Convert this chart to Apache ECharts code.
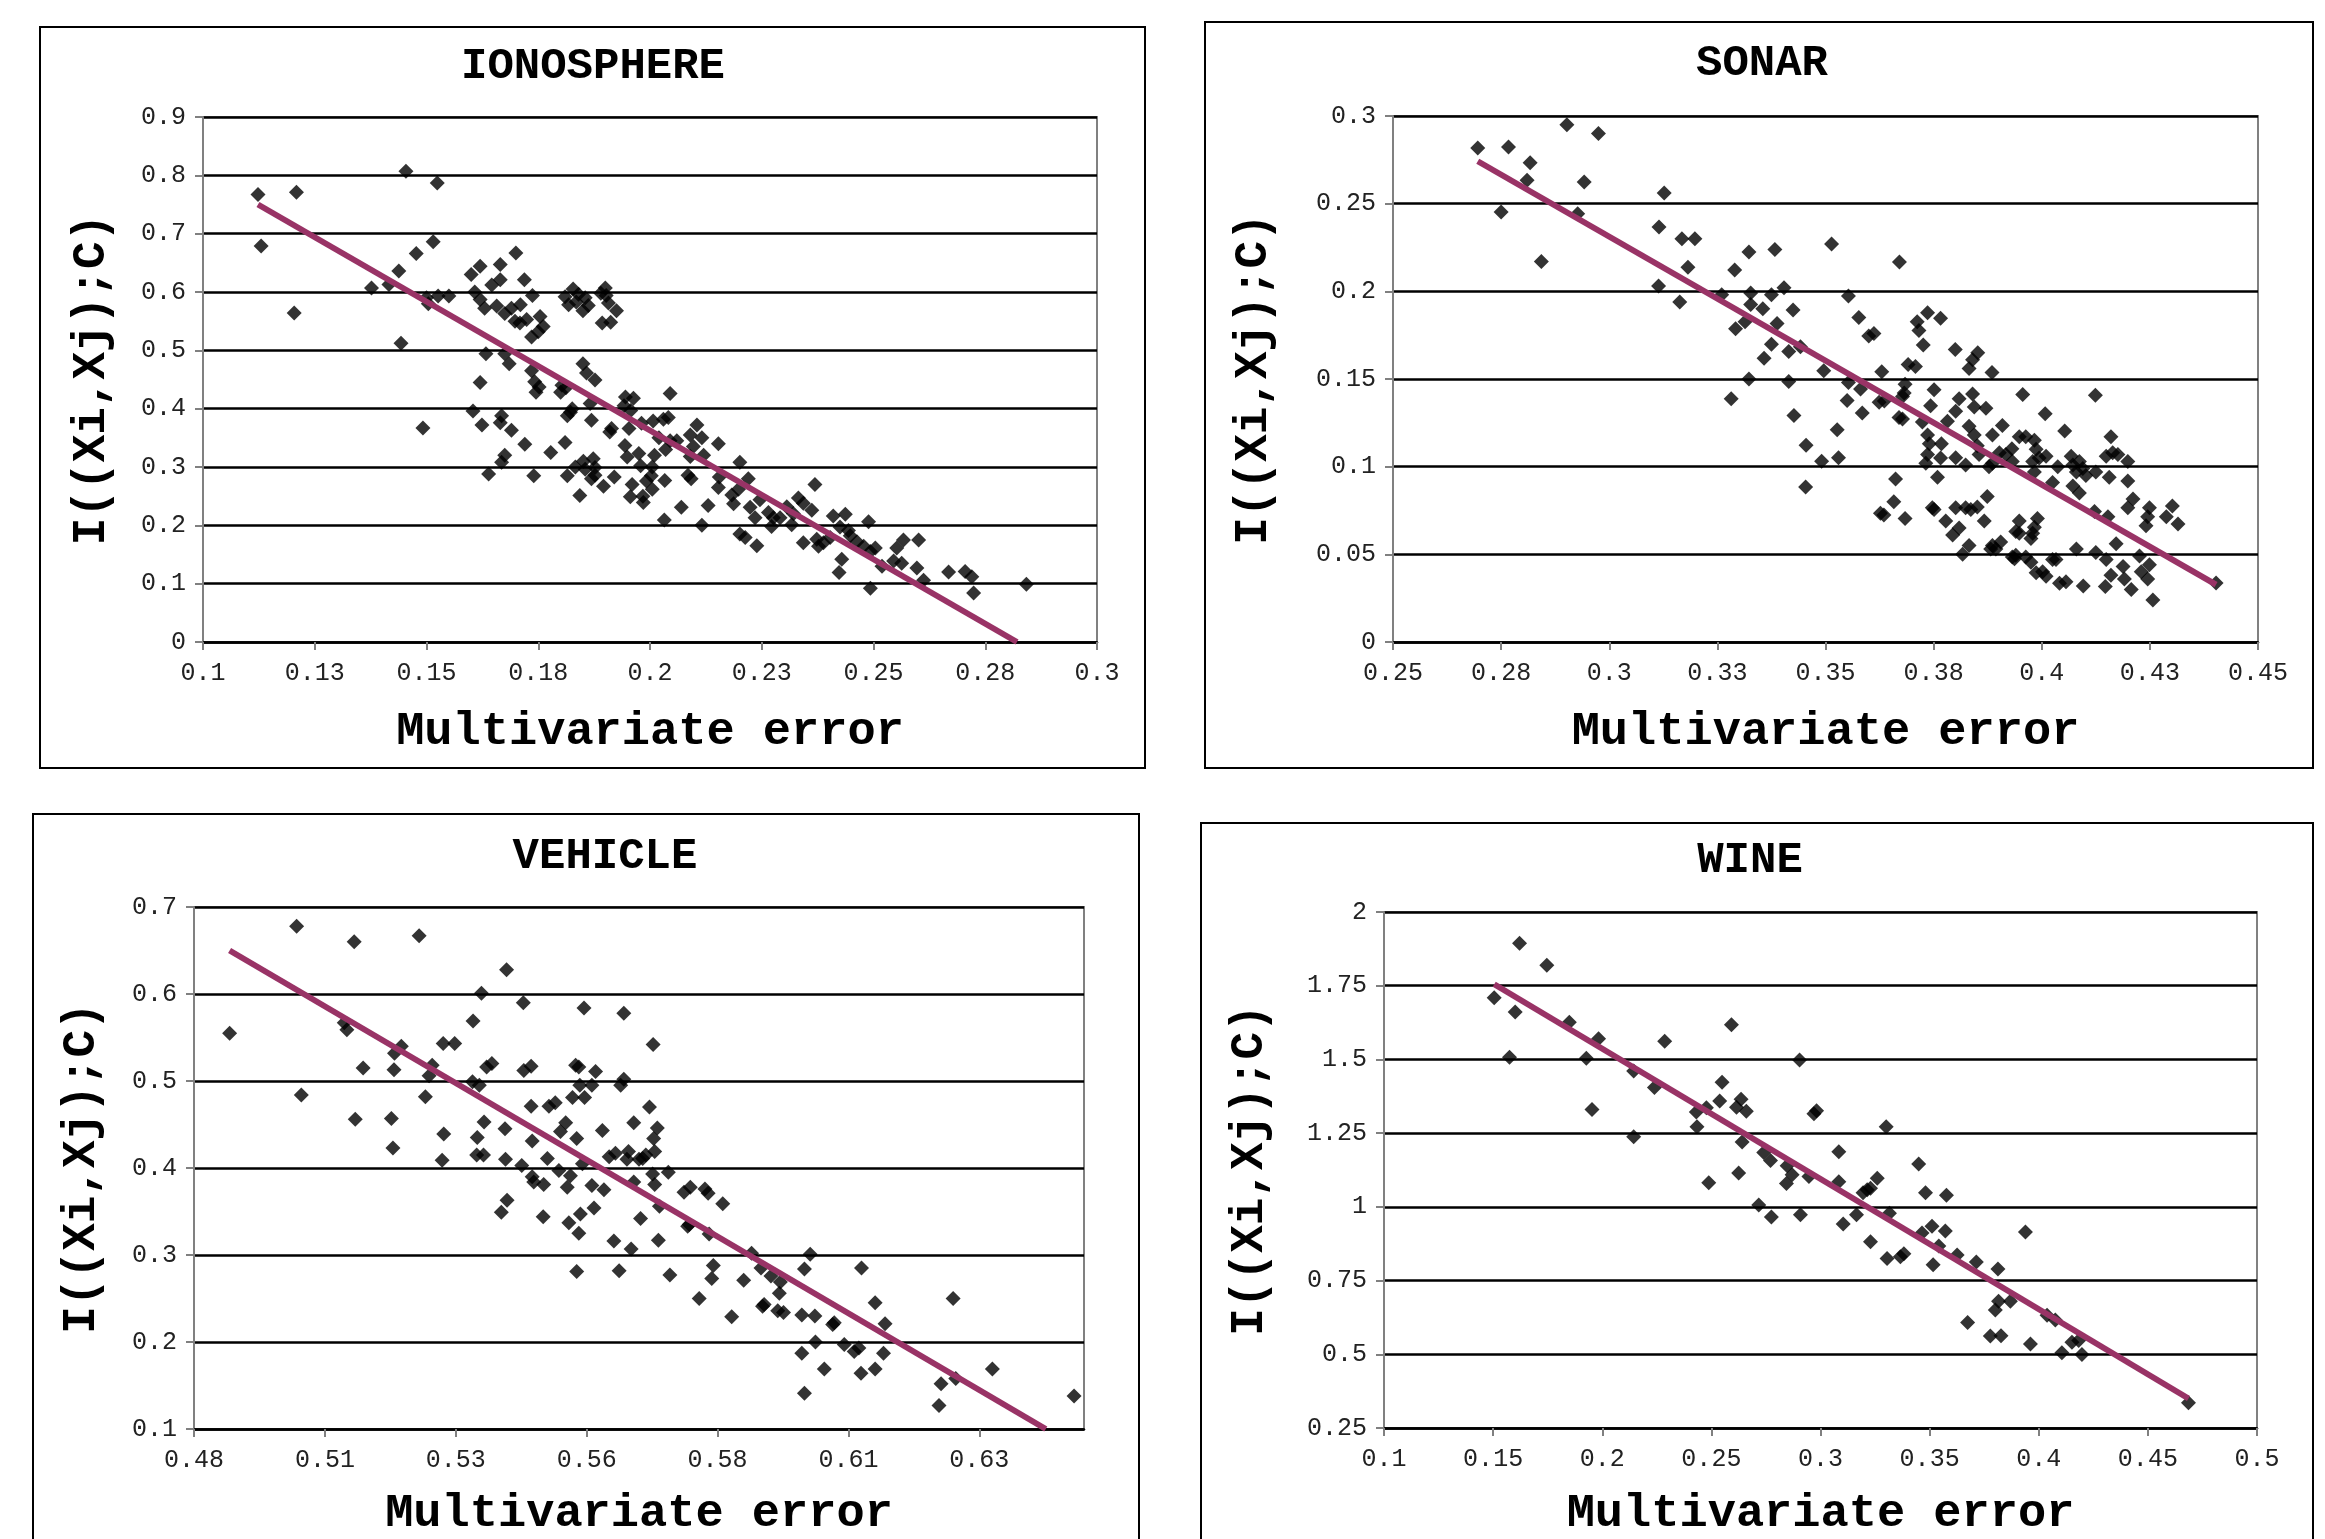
<!DOCTYPE html>
<html>
<head>
<meta charset="utf-8">
<script src="https://cdn.jsdelivr.net/npm/echarts@6/dist/echarts.min.js"></script>
<style>
html,body{margin:0;padding:0;background:#fff;}
#chart{width:2325px;height:1539px;}
</style>
</head>
<body>
<div id="chart"></div>
<script>
// ---------------- DATA ----------------
const titles = ['IONOSPHERE', 'SONAR', 'VEHICLE', 'WINE'];
const xName = 'Multivariate error';
const yName = 'I((Xi,Xj);C)';

const ionoPoints = [
[0.1123,0.767],[0.1209,0.771],[0.1130,0.679],[0.1204,0.564],
[0.1454,0.807],[0.1524,0.787],[0.1515,0.686],[0.1477,0.666],[0.1438,0.636],[0.1377,0.607],[0.1416,0.613],[0.1443,0.512],[0.1492,0.367],
[0.1500,0.590],[0.1504,0.580],[0.1526,0.593],[0.1550,0.593],
[0.1600,0.630],[0.1620,0.644],[0.1665,0.647],[0.1700,0.667],[0.1646,0.612],[0.1665,0.621],[0.1608,0.600],[0.1620,0.587],[0.1630,0.572],[0.1657,0.576],[0.1675,0.563],[0.1690,0.572],[0.1710,0.578],[0.1719,0.621],[0.1737,0.594],[0.1698,0.550],[0.1709,0.547],[0.1724,0.553],[0.1754,0.558],[0.1761,0.541],[0.1750,0.532],[0.1735,0.523],
[0.1810,0.592],[0.1828,0.605],[0.1835,0.583],[0.1850,0.568],[0.1862,0.577],[0.1818,0.578],[0.1840,0.596],[0.1855,0.590],
[0.1890,0.598],[0.1900,0.607],[0.1907,0.581],[0.1925,0.568],[0.1893,0.547],[0.1912,0.548],[0.1902,0.594],
[0.1633,0.494],[0.1675,0.494],[0.1685,0.477],[0.1620,0.445],
[0.1735,0.465],[0.1742,0.446],[0.1752,0.437],[0.1745,0.428],
[0.1803,0.440],[0.1800,0.428],[0.1812,0.436],
[0.1850,0.477],[0.1858,0.461],[0.1877,0.449],
[0.1826,0.400],[0.1815,0.388],[0.1822,0.394],
[0.1866,0.409],[0.1869,0.380],
[0.1945,0.420],[0.1963,0.418],[0.1942,0.405],[0.1957,0.397],
[0.1914,0.366],[0.1910,0.360],[0.1953,0.366],[0.1981,0.375],
[0.1604,0.396],[0.1624,0.372],[0.1668,0.388],[0.1665,0.376],[0.1690,0.363],[0.1720,0.339],[0.1778,0.325],[0.1810,0.342],
[0.1675,0.320],[0.1668,0.308],[0.1639,0.288],[0.1740,0.285],[0.1815,0.285],
[0.1833,0.300],[0.1851,0.310],[0.1873,0.314],[0.1877,0.299],[0.1855,0.296],[0.1877,0.286],[0.1869,0.280],
[0.1843,0.251],[0.1896,0.267],[0.1920,0.283],[0.1944,0.337],[0.1949,0.317],[0.1975,0.323],[0.1979,0.302],
[0.1960,0.270],[0.1956,0.249],[0.1984,0.250],[0.1985,0.239],[0.1992,0.276],
[0.2045,0.426],[0.2007,0.379],[0.2030,0.382],[0.2041,0.385],
[0.2020,0.350],[0.2035,0.330],[0.2010,0.320],[0.2005,0.300],[0.2003,0.285],[0.2045,0.345],
[0.2060,0.345],[0.2090,0.355],[0.2105,0.372],[0.2116,0.350],[0.2097,0.335],[0.2120,0.320],[0.2090,0.318],
[0.2153,0.340],[0.2033,0.277],[0.2005,0.262],
[0.2032,0.209],[0.2085,0.286],[0.2092,0.280],[0.2116,0.200],[0.2130,0.234],[0.2155,0.283],[0.2153,0.265],[0.2070,0.231],
[0.2201,0.308],[0.2220,0.280],[0.2198,0.262],[0.2187,0.237],[0.2183,0.252],
[0.2224,0.231],[0.2235,0.213],[0.2201,0.185],[0.2213,0.179],[0.2239,0.165],[0.2246,0.244],
[0.2265,0.222],[0.2276,0.213],[0.2272,0.198],[0.2291,0.213],[0.2306,0.232],[0.2321,0.220],[0.2332,0.247],[0.2343,0.238],[0.2317,0.201],[0.2362,0.226],
[0.2369,0.270],
[0.2343,0.170],[0.2377,0.164],[0.2388,0.170],[0.2403,0.179],[0.2373,0.176],
[0.2410,0.216],[0.2437,0.219],[0.2425,0.197],[0.2448,0.182],[0.2463,0.172],[0.2444,0.191],
[0.2423,0.119],[0.2429,0.142],[0.2489,0.206],[0.2478,0.164],[0.2493,0.155],[0.2504,0.161],[0.2493,0.092],
[0.2519,0.130],[0.2545,0.139],[0.2552,0.161],[0.2567,0.175],[0.2563,0.135],
[0.2601,0.175],[0.2597,0.127],[0.2612,0.106],
[0.2668,0.120],[0.2705,0.121],[0.2720,0.112],[0.2724,0.084],[0.2842,0.099]
];
const ionoTrend = [[0.1123, 0.750], [0.2821, 0.0]];

const sonarPoints = [
[0.2696,0.2817],[0.2767,0.2823],[0.2817,0.2733],[0.2810,0.2633],[0.2750,0.2453],[0.2843,0.2170],[0.2902,0.2950],[0.2975,0.2900],[0.2942,0.2623],[0.2927,0.2443],
[0.3127,0.2561],[0.3115,0.2367],[0.3168,0.2300],[0.3198,0.2300],[0.3182,0.2137],[0.3114,0.2031],[0.3163,0.1939],
[0.3260,0.1980],[0.3290,0.2122],[0.3323,0.2225],[0.3383,0.2239],[0.3404,0.2020],[0.3327,0.1990],[0.3327,0.1925],[0.3355,0.1900],[0.3375,0.1980],[0.3425,0.1894],[0.3314,0.1827],[0.3292,0.1786],[0.3388,0.1816],[0.3375,0.1698],[0.3415,0.1657],[0.3442,0.1684],[0.3358,0.1618],[0.3323,0.1500],[0.3415,0.1486],[0.3282,0.1388],[0.3427,0.1292],[0.3455,0.1122],[0.3491,0.1031],[0.3454,0.0884],[0.3496,0.1547],
[0.3514,0.2270],[0.3671,0.2168],[0.3553,0.1974],[0.3577,0.1851],[0.3600,0.1745],[0.3612,0.1760],
[0.3553,0.1480],[0.3550,0.1378],[0.3581,0.1443],[0.3585,0.1306],[0.3527,0.1210],[0.3530,0.1051],
[0.3630,0.1541],[0.3624,0.1368],[0.3636,0.1375],[0.3691,0.1582],[0.3708,0.1572],[0.3684,0.1470],[0.3682,0.1420],[0.3678,0.1400],[0.3670,0.1280],[0.3678,0.1272],
[0.3712,0.1827],[0.3736,0.1878],[0.3766,0.1847],[0.3716,0.1776],[0.3726,0.1694],[0.3800,0.1668],[0.3852,0.1650],[0.3840,0.1610],[0.3832,0.1560],[0.3885,0.1537],
[0.3751,0.1439],[0.3743,0.1347],[0.3809,0.1388],[0.3801,0.1316],[0.3840,0.1414],[0.3844,0.1340],[0.3871,0.1333],[0.3782,0.1259],[0.3724,0.1255],
[0.3736,0.1180],[0.3740,0.1130],[0.3736,0.1070],[0.3732,0.1020],[0.3768,0.1130],[0.3766,0.1050],[0.3801,0.1051],
[0.3832,0.1230],[0.3844,0.1180],[0.3851,0.1120],[0.3855,0.1070],[0.3824,0.1010],[0.3878,0.1000],[0.3886,0.1020],
[0.3886,0.1180],[0.3909,0.1235],[0.3902,0.1080],[0.3917,0.1070],[0.3932,0.1030],[0.3956,0.1412],[0.3931,0.1102],
[0.3948,0.1170],[0.3963,0.1170],[0.3983,0.1150],[0.3987,0.1100],[0.3994,0.1050],[0.4010,0.1060],[0.3979,0.1030],[0.3983,0.0970],
[0.4008,0.1302],[0.4053,0.1204],[0.4037,0.1000],[0.4025,0.0910],
[0.4068,0.1060],[0.4072,0.1010],[0.4087,0.1030],[0.4080,0.0970],[0.4095,0.0990],[0.4102,0.0950],[0.4072,0.0890],[0.4087,0.0850],
[0.4124,0.1408],[0.4125,0.0970],[0.4160,0.1170],[0.4149,0.1060],[0.4164,0.1080],[0.4176,0.1070],[0.4199,0.1030],[0.4156,0.0939],[0.4199,0.0918],[0.4211,0.0816],[0.4199,0.0765],
[0.4249,0.0765],[0.4245,0.0714],[0.4241,0.0663],[0.4302,0.0775],[0.4288,0.0714],[0.4315,0.0673],[0.4403,0.0337],
[0.4122,0.0745],[0.4153,0.0714],[0.4125,0.0510],[0.4149,0.0470],[0.4172,0.0560],[0.4080,0.0530],
[0.4160,0.0380],[0.4188,0.0430],[0.4191,0.0360],[0.4207,0.0300],[0.4230,0.0400],[0.4245,0.0360],[0.4257,0.0240],[0.4226,0.0490],[0.4249,0.0440],
[0.4147,0.0316],[0.4096,0.0320],
[0.4056,0.0344],[0.4041,0.0335],[0.4010,0.0375],[0.3987,0.0395],[0.3975,0.0455],[0.3963,0.0485],[0.3940,0.0495],[0.3937,0.0475],[0.3932,0.0485],
[0.3983,0.0655],[0.3975,0.0590],[0.3990,0.0705],[0.3979,0.0620],
[0.3948,0.0690],[0.3940,0.0630],[0.3948,0.0620],
[0.3886,0.0550],[0.3894,0.0530],[0.3905,0.0570],[0.3882,0.0530],
[0.3817,0.0500],[0.3832,0.0550],
[0.3851,0.0770],[0.3867,0.0690],[0.3874,0.0830],
[0.3824,0.0765],[0.3836,0.0755],[0.3801,0.0765],
[0.3794,0.0610],[0.3809,0.0650],
[0.3747,0.0765],[0.3751,0.0755],[0.3759,0.0940],[0.3778,0.0690],
[0.3627,0.0735],[0.3635,0.0725],[0.3662,0.0930],[0.3658,0.0800],[0.3684,0.0704],
[0.4033,0.0470],[0.4025,0.0470],[0.4002,0.0400]
];
const sonarTrend = [[0.2696, 0.2742], [0.4403, 0.0327]];

const vehiclePoints = [
[0.4868,0.555],[0.4996,0.678],[0.5005,0.484],[0.5106,0.660],[0.5087,0.567],[0.5092,0.559],[0.5123,0.515],[0.5108,0.456],[0.5177,0.457],[0.5180,0.423],[0.5182,0.513],[0.5183,0.532],[0.5196,0.540],[0.5230,0.667],[0.5242,0.482],[0.5249,0.506],[0.5255,0.518],[0.5276,0.543],[0.5298,0.543],[0.5277,0.439],[0.5274,0.409],[0.5332,0.499],[0.5333,0.569],[0.5349,0.601],[0.5354,0.453],[0.5341,0.435],[0.5340,0.415],[0.5353,0.415],[0.5397,0.628],[0.5429,0.590],[0.5359,0.516],[0.5369,0.520],[0.5345,0.495],[0.5394,0.445],[0.5395,0.410],[0.5398,0.363],[0.5387,0.349],[0.5426,0.403],[0.5430,0.512],[0.5444,0.517],[0.5444,0.471],[0.5446,0.431],[0.5446,0.390],[0.5449,0.384],[0.5468,0.381],[0.5467,0.344],[0.5475,0.411],[0.5478,0.471],[0.5490,0.475],[0.5497,0.397],[0.5510,0.452],[0.5500,0.442],[0.5519,0.391],[0.5513,0.378],[0.5531,0.434],[0.5516,0.337],[0.5535,0.325],[0.5538,0.347],[0.5523,0.481],[0.5546,0.481],[0.5529,0.518],[0.5535,0.516],[0.5545,0.584],[0.5564,0.354],[0.5531,0.281],[0.5537,0.495],[0.5560,0.495],[0.5567,0.511],[0.5560,0.380],[0.5542,0.405],[0.5583,0.375],[0.5580,0.443],[0.5593,0.413],[0.5605,0.417],[0.5615,0.495],[0.5621,0.502],[0.5621,0.578],[0.5602,0.316],[0.5612,0.282],[0.5635,0.307],[0.5640,0.452],[0.5627,0.410],[0.5650,0.410],[0.5630,0.419],[0.5640,0.384],[0.5653,0.342],
[0.5677,0.542],[0.5670,0.470],[0.5685,0.446],[0.5678,0.434],[0.5680,0.419],[0.5657,0.411],[0.5663,0.415],[0.5676,0.393],[0.5680,0.381],[0.5706,0.395],[0.5689,0.356],[0.5687,0.317],[0.5709,0.277],[0.5736,0.372],[0.5748,0.378],[0.5743,0.333],[0.5746,0.335],[0.5776,0.376],[0.5782,0.371],[0.5810,0.359],[0.5784,0.324],[0.5765,0.250],[0.5792,0.288],[0.5789,0.273],[0.5827,0.229],[0.5850,0.271],[0.5865,0.302],[0.5883,0.285],[0.5902,0.276],[0.5920,0.269],[0.5918,0.256],[0.5889,0.243],[0.5886,0.241],[0.5915,0.236],[0.5926,0.234],[0.5961,0.231],[0.5986,0.230],[0.5966,0.284],[0.5977,0.301],[0.5961,0.187],[0.5966,0.141],[0.5987,0.200],[0.6004,0.169],[0.6020,0.220],[0.6023,0.222],[0.6042,0.197],[0.6061,0.189],[0.6070,0.193],[0.6075,0.285],[0.6074,0.164],[0.6101,0.245],[0.6120,0.221],[0.6117,0.187],[0.6101,0.169],[0.6227,0.152],[0.6223,0.127],[0.6250,0.250],[0.6255,0.158],[0.6325,0.169],[0.6481,0.138]
];
const vehicleTrend = [[0.4868, 0.650], [0.6427, 0.100]];

const winePoints = [
[0.1505,1.709],[0.1621,1.894],[0.1601,1.661],[0.1575,1.507],[0.1746,1.819],[0.1849,1.626],[0.1983,1.570],[0.1927,1.504],[0.1953,1.330],[0.2144,1.461],[0.2144,1.238],[0.2239,1.405],[0.2286,1.562],[0.2431,1.322],[0.2434,1.272],[0.2477,1.336],[0.2488,1.082],[0.2538,1.359],[0.2549,1.423],[0.2592,1.618],[0.2615,1.338],[0.2636,1.365],[0.2660,1.324],[0.2641,1.220],[0.2625,1.115],[0.2717,1.006],[0.2740,1.184],[0.2771,1.157],[0.2775,0.966],[0.2847,1.139],[0.2870,1.109],[0.2844,1.079],[0.2904,1.498],[0.2908,0.973],[0.2947,1.103],[0.2970,1.316],[0.2982,1.326],
[0.3301,1.272],[0.3084,1.187],[0.3084,1.085],[0.3260,1.097],[0.3195,1.048],[0.3214,1.058],[0.3229,1.063],[0.3104,0.942],[0.3165,0.973],[0.3229,0.882],[0.3316,0.978],[0.3305,0.825],[0.3366,0.831],[0.3382,0.841],[0.3450,1.145],[0.3481,1.048],[0.3577,1.039],[0.3465,0.911],[0.3511,0.934],[0.3542,0.867],[0.3572,0.918],[0.3516,0.804],[0.3626,0.837],[0.3714,0.813],[0.3813,0.789],[0.3939,0.915],[0.3816,0.680],[0.3801,0.650],[0.3870,0.680],[0.3674,0.608],[0.3778,0.562],[0.3827,0.563],[0.3962,0.535],[0.4038,0.632],[0.4076,0.616],[0.4106,0.505],[0.4152,0.541],[0.4183,0.547],[0.4198,0.499],[0.4686,0.336]
];
const wineTrend = [[0.1505, 1.755], [0.4686, 0.350]];

// tick values and labels
const ionoXTicks = [0.1,0.125,0.15,0.175,0.2,0.225,0.25,0.275,0.3];
const ionoXLabels = ['0.1','0.13','0.15','0.18','0.2','0.23','0.25','0.28','0.3'];
const ionoYTicks = [0,0.1,0.2,0.3,0.4,0.5,0.6,0.7,0.8,0.9];
const ionoYLabels = ['0','0.1','0.2','0.3','0.4','0.5','0.6','0.7','0.8','0.9'];

const sonarXTicks = [0.25,0.275,0.3,0.325,0.35,0.375,0.4,0.425,0.45];
const sonarXLabels = ['0.25','0.28','0.3','0.33','0.35','0.38','0.4','0.43','0.45'];
const sonarYTicks = [0,0.05,0.1,0.15,0.2,0.25,0.3];
const sonarYLabels = ['0','0.05','0.1','0.15','0.2','0.25','0.3'];

const vehicleXTicks = [0.48,0.505,0.53,0.555,0.58,0.605,0.63];
const vehicleXLabels = ['0.48','0.51','0.53','0.56','0.58','0.61','0.63'];
const vehicleYTicks = [0.1,0.2,0.3,0.4,0.5,0.6,0.7];
const vehicleYLabels = ['0.1','0.2','0.3','0.4','0.5','0.6','0.7'];

const wineXTicks = [0.1,0.15,0.2,0.25,0.3,0.35,0.4,0.45,0.5];
const wineXLabels = ['0.1','0.15','0.2','0.25','0.3','0.35','0.4','0.45','0.5'];
const wineYTicks = [0.25,0.5,0.75,1,1.25,1.5,1.75,2];
const wineYLabels = ['0.25','0.5','0.75','1','1.25','1.5','1.75','2'];

// ---------------- LAYOUT ----------------
const panels = [
  {grid:{left:203, top:117, width:894, height:525}, frame:[40,27,1105,741], titlePos:[593,67],
   x:{min:0.1, max:0.3, interval:0.025, ticks:ionoXTicks, labels:ionoXLabels, gap:67},
   y:{min:0, max:0.9, interval:0.1, ticks:ionoYTicks, labels:ionoYLabels, gap:88},
   points:ionoPoints, trend:ionoTrend},
  {grid:{left:1393, top:116, width:865, height:526}, frame:[1205,22,1108,746], titlePos:[1762,64],
   x:{min:0.25, max:0.45, interval:0.025, ticks:sonarXTicks, labels:sonarXLabels, gap:67},
   y:{min:0, max:0.3, interval:0.05, ticks:sonarYTicks, labels:sonarYLabels, gap:116},
   points:sonarPoints, trend:sonarTrend},
  {grid:{left:194, top:907, width:890, height:522}, frame:[33,814,1106,800], titlePos:[605,857],
   x:{min:0.48, max:0.65, interval:0.025, ticks:vehicleXTicks, labels:vehicleXLabels, gap:62},
   y:{min:0.1, max:0.7, interval:0.1, ticks:vehicleYTicks, labels:vehicleYLabels, gap:89},
   points:vehiclePoints, trend:vehicleTrend},
  {grid:{left:1384, top:912, width:873, height:516}, frame:[1201,823,1112,800], titlePos:[1750,861],
   x:{min:0.1, max:0.5, interval:0.05, ticks:wineXTicks, labels:wineXLabels, gap:63},
   y:{min:0.25, max:2, interval:0.25, ticks:wineYTicks, labels:wineYLabels, gap:111},
   points:winePoints, trend:wineTrend}
];

const MONO = '"Liberation Mono", "DejaVu Sans Mono", monospace';

function labelFor(ticks, labels) {
  return function (v) {
    for (let i = 0; i < ticks.length; i++) {
      if (Math.abs(ticks[i] - v) < 1e-6) return labels[i];
    }
    return '';
  };
}

const grids = [], xAxes = [], yAxes = [], series = [], graphics = [];
panels.forEach((p, i) => {
  grids.push(Object.assign({show:true, borderColor:'#808080', borderWidth:2, backgroundColor:'transparent', containLabel:false}, p.grid));
  xAxes.push({
    type:'value', gridIndex:i, min:p.x.min, max:p.x.max, interval:p.x.interval,
    axisLine:{show:true, onZero:false, lineStyle:{color:'#000', width:2.5}},
    axisTick:{show:true, inside:false, length:8, customValues:p.x.ticks, lineStyle:{color:'#808080', width:2}},
    axisLabel:{show:true, customValues:p.x.ticks, formatter:labelFor(p.x.ticks, p.x.labels), showMinLabel:true, showMaxLabel:true, hideOverlap:false,
               fontFamily:MONO, fontSize:25, color:'#222', margin:19},
    splitLine:{show:false},
    name:xName, nameLocation:'middle', nameGap:p.x.gap,
    nameTextStyle:{fontFamily:MONO, fontWeight:'bold', fontSize:47, color:'#000'}
  });
  yAxes.push({
    type:'value', gridIndex:i, min:p.y.min, max:p.y.max, interval:p.y.interval,
    axisLine:{show:true, onZero:false, lineStyle:{color:'#808080', width:2}},
    axisTick:{show:true, inside:false, length:8, customValues:p.y.ticks, lineStyle:{color:'#808080', width:2}},
    axisLabel:{show:true, customValues:p.y.ticks, formatter:labelFor(p.y.ticks, p.y.labels), showMinLabel:true, showMaxLabel:true,
               fontFamily:MONO, fontSize:25, color:'#222', margin:17},
    splitLine:{show:true, lineStyle:{color:'#000', width:2.5}},
    name:yName, nameLocation:'middle', nameRotate:90, nameGap:p.y.gap,
    nameTextStyle:{fontFamily:MONO, fontWeight:'bold', fontSize:46, color:'#000'}
  });
  series.push({
    type:'scatter', xAxisIndex:i, yAxisIndex:i, data:p.points,
    symbol:'diamond', symbolSize:15, itemStyle:{color:'#000'}, z:2, silent:true
  });
  series.push({
    type:'line', xAxisIndex:i, yAxisIndex:i, data:p.trend,
    showSymbol:false, symbol:'none', lineStyle:{color:'#993366', width:6}, z:3, silent:true
  });
  graphics.push({
    type:'rect', shape:{x:p.frame[0], y:p.frame[1], width:p.frame[2], height:p.frame[3]},
    style:{fill:'none', stroke:'#000', lineWidth:2}, z:-1, silent:true
  });
  graphics.push({
    type:'text', x:p.titlePos[0], y:p.titlePos[1],
    style:{text:titles[i], fontFamily:MONO, fontWeight:'bold', fontSize:44, fill:'#000', textAlign:'center', textVerticalAlign:'middle'},
    silent:true
  });
});

const chart = echarts.init(document.getElementById('chart'), null, {renderer:'canvas', width:2325, height:1539});
chart.setOption({
  animation:false,
  backgroundColor:'#ffffff',
  grid:grids, xAxis:xAxes, yAxis:yAxes, series:series, graphic:graphics
});
</script>
</body>
</html>
